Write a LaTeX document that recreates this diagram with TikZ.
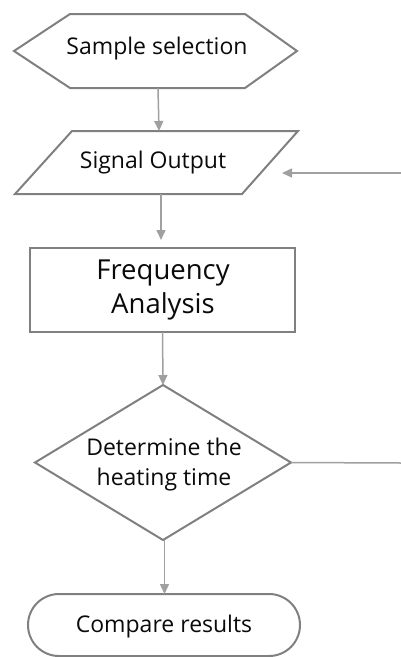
\documentclass[tikz,border=0pt]{standalone}
\usepackage{fontspec}
\setmainfont{Open Sans}
\usetikzlibrary{arrows.meta,calc}
\definecolor{shapegray}{HTML}{808080}
\definecolor{arrgray}{HTML}{A0A0A0}
\definecolor{txt}{HTML}{0A0A0A}
\tikzset{
  box/.style={inner sep=0pt,outer sep=0pt,align=center,text=txt,font=\fontsize{23}{30}\selectfont},
  bigbox/.style={box,font=\fontsize{27.5}{34}\selectfont},
  outline/.style={draw=shapegray,line width=2pt,line join=miter},
  arr/.style={draw=arrgray,line width=1.5pt,-{Triangle[length=10pt,width=9pt]}},
  plain/.style={draw=arrgray,line width=1.5pt}
}
\begin{document}
\begin{tikzpicture}[x=1pt,y=-1pt]
\useasboundingbox (0,0) rectangle (401,657);
% nodes (invisible frames, outlines drawn from anchors)
\node[box,minimum width=283pt,minimum height=74pt] (hex) at (155.5,51) {};
\node[box] (hext) at (157,49) {Sample selection};
\node[box,minimum width=283pt,minimum height=63pt] (sig) at (156.5,162.5) {};
\node[box] (sigt) at (153,163) {Signal Output};
\node[box,minimum width=265pt,minimum height=84pt] (freq) at (162.5,290) {};
\node[bigbox] (freqt) at (163,290) {Frequency\\ Analysis};
\node[box,minimum width=256pt,minimum height=155pt] (dia) at (163,462.5) {};
\node[box] (diat) at (164,465) {Determine the\\ heating time};
\node[box,minimum width=272pt,minimum height=62pt] (cmp) at (164,625) {};
\node[box] (cmpt) at (164,627) {Compare results};
% outlines
\draw[outline] (hex.west) -- ($(hex.north west)+(56,0)$) -- ($(hex.north east)+(-52,0)$) -- (hex.east)
  -- ($(hex.south east)+(-52,0)$) -- ($(hex.south west)+(56,0)$) -- cycle;
\draw[outline] ($(sig.north west)+(57,0)$) -- (sig.north east) -- ($(sig.south east)+(-56,0)$) -- (sig.south west) -- cycle;
\draw[outline,line width=2.5pt] (freq.north west) rectangle (freq.south east);
\draw[outline] (dia.north) -- (dia.east) -- (dia.south) -- (dia.west) -- cycle;
\draw[outline,rounded corners=31pt] (cmp.north west) rectangle (cmp.south east);
% connectors
\coordinate (inR) at (401,173);
\coordinate (outR) at (401,463);
\draw[arr] ($(hex.south)+(2.5,0)$) -- ($(sig.north)+(2.5,0)$);
\draw[arr] ($(sig.south)+(4.5,0)$) -- ($(freq.north)+(-1.5,-8)$);
\draw[arr] (freq.south) -- (dia.north);
\draw[arr] ($(dia.south)+(1.5,0)$) -- ($(cmp.north)+(0.5,0)$);
\draw[arr] (inR) -- ($(sig.east |- inR)+(-16,0)$);
\draw[plain] (dia.east) -- (outR);
\end{tikzpicture}
\end{document}
